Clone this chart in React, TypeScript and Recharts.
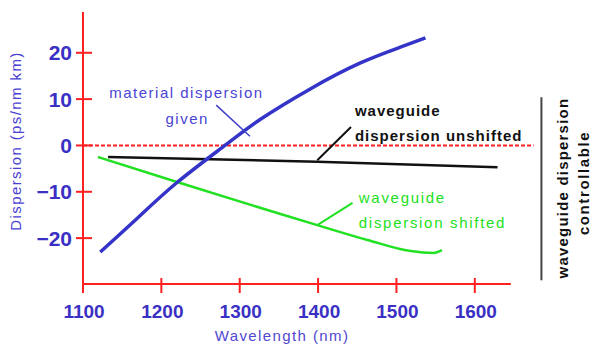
import { LineChart, Line, XAxis, YAxis, ReferenceLine, ReferenceDot, Label } from 'recharts'

// wavelength (nm) and dispersion (ps/nm km)
const wavelengthTicks = [1100, 1200, 1300, 1400, 1500, 1600]
const dispersionTicks = [20, 10, 0, -10, -20]

const materialNm = [1122, 1170, 1220, 1281, 1326, 1390, 1454, 1505, 1537]
const materialDisp = [-23, -15.6, -8, 0, 5.6, 12.2, 17.8, 21.2, 23.2]

const unshiftedNm = [1132, 1399, 1629]
const unshiftedDisp = [-2.5, -3.5, -4.7]

const shiftedNm = [1119, 1220, 1352, 1399, 1463, 1518, 1547, 1558]
const shiftedDisp = [-2.5, -7.9, -14.8, -17.2, -20.4, -22.8, -23.2, -22.6]

const toRows = (nm: number[], d: number[]) => nm.map((x, i) => ({ nm: x, d: d[i] }))

const X_MIN = 1100
const X_MAX = 1747
const Y_MIN = -29.9
const Y_MAX = 28.8

const RED = '#ff2020'
const TICK_BLUE = '#3a30c4'
const SANS = '"Liberation Sans", Arial, sans-serif'

const XTick = (props: any) => {
  const { x, y, payload } = props
  return (
    <g>
      <line x1={x} x2={x} y1={y - 6} y2={y + 9} stroke={RED} strokeWidth={2} />
      <text x={x + 1} y={y + 27} textAnchor="middle" dominantBaseline="central"
        fontFamily={SANS} fontWeight="bold" fontSize={19} fill={TICK_BLUE}>
        {payload.value}
      </text>
    </g>
  )
}

const YTick = (props: any) => {
  const { x, y, payload } = props
  const v = payload.value as number
  return (
    <g>
      <line x1={x - 7} x2={x + 9} y1={y} y2={y} stroke={RED} strokeWidth={2} />
      <text x={x - 11} y={y} textAnchor="end" dominantBaseline="central"
        fontFamily={SANS} fontWeight="bold" fontSize={21} fill={TICK_BLUE}>
        {v < 0 ? '\u2212' + Math.abs(v) : v}
      </text>
    </g>
  )
}

const yTitle = (props: any) => {
  const { x, y, height } = props.viewBox
  const cx = x + 15
  const cy = y + height / 2 - 7
  return (
    <text x={cx} y={cy} transform={`rotate(-90 ${cx} ${cy})`} textAnchor="middle"
      dominantBaseline="central" fontFamily={SANS} fontSize={15} letterSpacing={1.4} fill="#4a3fd0">
      Dispersion (ps/nm km)
    </text>
  )
}

const xTitle = (props: any) => {
  const { x, y } = props.viewBox
  return (
    <text x={x + 199} y={y + 51} textAnchor="middle" dominantBaseline="central"
      fontFamily={SANS} fontSize={15} letterSpacing={1.4} fill="#5048d0">
      Wavelength (nm)
    </text>
  )
}

// text note placed in data coordinates
const note = (x: number, y: number, text: string, color: string, opts: any = {}) => (
  <ReferenceDot
    key={text + x}
    x={x}
    y={y}
    r={0}
    fill="none"
    stroke="none"
    ifOverflow="visible"
    label={{
      value: text,
      position: opts.anchor === 'start' ? 'right' : 'center',
      offset: 0,
      fill: color,
      fontSize: opts.size ?? 15,
      fontWeight: opts.bold ? 'bold' : 'normal',
      fontFamily: SANS,
      letterSpacing: opts.spacing ?? 1,
      angle: opts.angle ?? 0,
    }}
  />
)

export default function App() {
  return (
    <div style={{ position: 'absolute', left: 0, top: 0, background: '#fff' }}>
      <LineChart width={592} height={346} margin={{ top: 12, right: 2, left: 0, bottom: 0 }}>
        <XAxis
          type="number"
          dataKey="nm"
          domain={[X_MIN, X_MAX]}
          ticks={wavelengthTicks}
          allowDataOverflow
          axisLine={false}
          tickLine={false}
          tickSize={0}
          tickMargin={0}
          tick={<XTick />}
          height={62}
          interval={0}
        >
          <Label content={xTitle} />
        </XAxis>
        <YAxis
          type="number"
          domain={[Y_MIN, Y_MAX]}
          ticks={dispersionTicks}
          allowDataOverflow
          width={83}
          axisLine={{ stroke: RED, strokeWidth: 2 }}
          tickLine={false}
          tickSize={0}
          tickMargin={0}
          tick={<YTick />}
          interval={0}
        >
          <Label content={yTitle} />
        </YAxis>

        <ReferenceLine segment={[{ x: X_MIN, y: Y_MIN }, { x: 1646, y: Y_MIN }]} stroke={RED} strokeWidth={2} ifOverflow="visible" />
        <ReferenceLine segment={[{ x: X_MIN, y: 0 }, { x: 1675, y: 0 }]} stroke={RED} strokeWidth={2} strokeDasharray="4 2" ifOverflow="visible" />
        <ReferenceLine segment={[{ x: 1685, y: 10.4 }, { x: 1685, y: -29.1 }]} stroke="#444" strokeWidth={2} ifOverflow="visible" />

        <Line data={toRows(unshiftedNm, unshiftedDisp)} dataKey="d" type="linear" stroke="#111" strokeWidth={2.5} dot={false} isAnimationActive={false} />
        <Line data={toRows(shiftedNm, shiftedDisp)} dataKey="d" type="monotone" stroke="#22e022" strokeWidth={2.5} dot={false} isAnimationActive={false} />
        <Line data={toRows(materialNm, materialDisp)} dataKey="d" type="natural" stroke="#3434c8" strokeWidth={3.5} dot={false} isAnimationActive={false} />

        {/* pointer lines */}
        <ReferenceLine segment={[{ x: 1270, y: 8.7 }, { x: 1313, y: 2.0 }]} stroke="#4040c8" strokeWidth={1.5} ifOverflow="visible" />
        <ReferenceLine segment={[{ x: 1399, y: -3.2 }, { x: 1442, y: 4.0 }]} stroke="#111" strokeWidth={2} ifOverflow="visible" />
        <ReferenceLine segment={[{ x: 1399, y: -17.2 }, { x: 1444, y: -12.4 }]} stroke="#22e022" strokeWidth={2} ifOverflow="visible" />

        {note(1232, 11.3, 'material dispersion', '#4a44d4', { spacing: 1.5 })}
        {note(1233, 5.7, 'given', '#4a44d4', { spacing: 1.5 })}
        {note(1447, 7.6, 'waveguide', '#111', { anchor: 'start', bold: true, spacing: 1 })}
        {note(1447, 2.2, 'dispersion unshifted', '#111', { anchor: 'start', bold: true, spacing: 1 })}
        {note(1452, -11.2, 'waveguide', '#22e022', { anchor: 'start', spacing: 1.7 })}
        {note(1452, -16.6, 'dispersion shifted', '#22e022', { anchor: 'start', spacing: 1.7 })}
        {note(1712, -9.2, 'waveguide dispersion', '#111', { bold: true, angle: -90, spacing: 1.2, size: 15 })}
        {note(1739, -8.1, 'controllable', '#111', { bold: true, angle: -90, spacing: 1.6, size: 15 })}
      </LineChart>
    </div>
  )
}
